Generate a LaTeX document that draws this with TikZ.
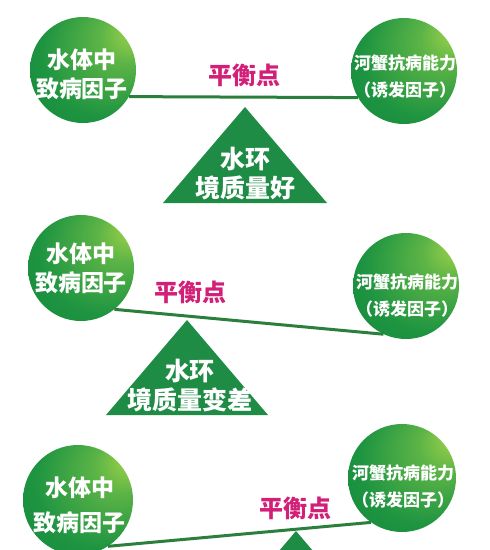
\documentclass[tikz,border=0pt]{standalone}
\usepackage{fontspec}
\newfontfamily\cjk{Noto Sans CJK SC}
\definecolor{ballA}{HTML}{A8D64C}
\definecolor{ballB}{HTML}{5CB446}
\definecolor{ballC}{HTML}{1E9441}
\definecolor{ballD}{HTML}{0F873A}
\definecolor{beamc}{HTML}{2A7F3C}
\definecolor{trig}{HTML}{1F8C46}
\definecolor{pinkt}{HTML}{D21F78}
\pgfdeclareradialshading{gball}{\pgfpoint{26bp}{20bp}}{color(0bp)=(ballA); color(12bp)=(ballB); color(30bp)=(ballC); color(50bp)=(ballD)}
\tikzset{
  ball/.style={circle, minimum size=#1, inner sep=0pt, shading=gball},
  ball/.default=106pt,
  lefttxt/.style={text=white, font=\cjk\bfseries\fontsize{23}{29}\selectfont, align=center, inner sep=0pt},
  righttxt/.style={text=white, font=\cjk\bfseries\fontsize{17}{27}\selectfont, align=center, inner sep=0pt},
  tritxt/.style={text=white, font=\cjk\bfseries\fontsize{25}{29}\selectfont, align=center, inner sep=0pt},
  baltxt/.style={text=pinkt, font=\cjk\bfseries\fontsize{24}{28}\selectfont, inner sep=0pt},
  beam/.style={draw=beamc, line width=3pt},
  tri/.style={fill=trig}
}
\begin{document}
\begin{tikzpicture}[x=1pt,y=-1pt]
\useasboundingbox (0,0) rectangle (490,550);
\fill[white] (0,0) rectangle (490,550);
\begin{scope}
\clip (0,0) rectangle (490,550);
% ---------- section 1 ----------
\coordinate (T1) at (245,107);
\fill[tri] (T1) -- ++(-82,96) -- ++(164,0) -- cycle;
\node[tritxt] (t1) at (245,174) {水环\\境质量好};
\node[ball] (L1) at (83,70) {};
\node[ball] (R1) at (404,71) {};
\draw[beam] (L1.-30) -- (R1.210);
\node[lefttxt] (l1) at (82,74) {水体中\\致病因子};
\node[righttxt] (r1) at (405,77) {河蟹抗病能力\\（诱发因子）};
\node[baltxt] (b1) at (244,75) {平衡点};
% ---------- section 2 ----------
\coordinate (T2) at (187,320);
\fill[tri] (T2) -- ++(-81,95) -- ++(162,0) -- cycle;
\node[tritxt] (t2) at (190,386) {水环\\境质量变差};
\node[ball] (L2) at (81,268) {};
\node[ball] (R2) at (406,286) {};
\draw[beam] (L2.-51) -- (R2.245);
\node[lefttxt] (l2) at (81,268) {水体中\\致病因子};
\node[righttxt] (r2) at (407,295) {河蟹抗病能力\\（诱发因子）};
\node[baltxt] (b2) at (190,292) {平衡点};
% ---------- section 3 ----------
\coordinate (T3) at (296,531);
\fill[tri] (T3) -- ++(-81,95) -- ++(162,0) -- cycle;
\node[ball=110pt] (L3) at (78,500) {};
\node[ball=108pt] (R3) at (402,478) {};
\draw[beam] (L3.-57) -- (R3.235);
\node[lefttxt, font=\cjk\bfseries\fontsize{23}{35}\selectfont] (l3) at (80,505) {水体中\\致病因子};
\node[righttxt] (r3) at (403,486) {河蟹抗病能力\\（诱发因子）};
\node[baltxt] (b3) at (295,508) {平衡点};
\end{scope}
\end{tikzpicture}
\end{document}
